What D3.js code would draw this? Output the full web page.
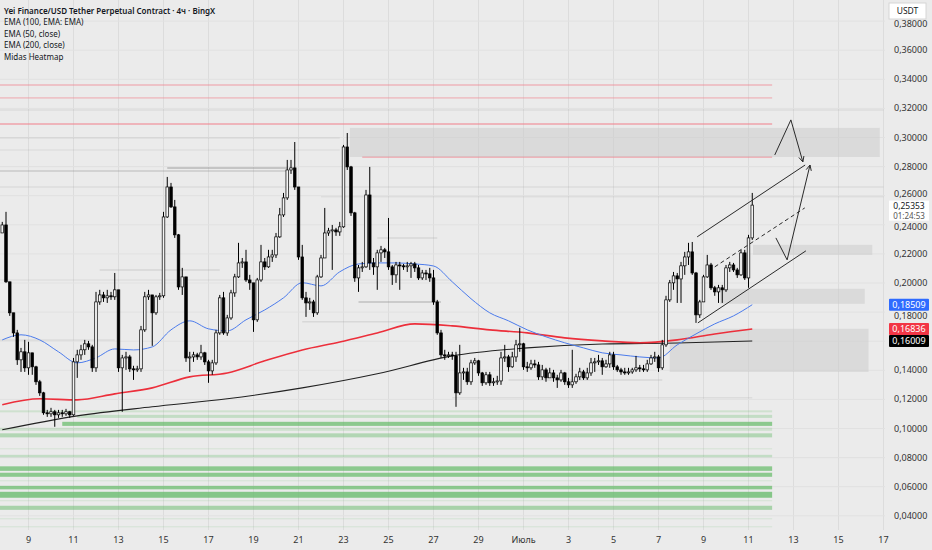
<!DOCTYPE html>
<html>
<head>
<meta charset="utf-8">
<script src="https://cdn.jsdelivr.net/npm/d3@7"></script>
<style>
  body { margin: 0; background: #ebebeb; font-family: "Noto Sans", Roboto, sans-serif; }
  svg { display: block; }
</style>
</head>
<body>
<svg id="chart" width="932" height="550"></svg>
<script>
// 4h bars of CLOUSDT (Yei Finance), first bar 7 June 20:00 UTC
const firstBar = Date.UTC(2025, 5, 7, 20);
const barMs = 4 * 3600 * 1000;
const firstOpen = 0.2344;

const closes = [
  0.2399, 0.2008, 0.1795, 0.1657, 0.1472, 0.1527, 0.1417, 0.1520, 0.1424, 0.1321,
  0.1245, 0.1108, 0.1101, 0.1115, 0.1094, 0.1108, 0.1101, 0.1115, 0.1094, 0.1458,
  0.1506, 0.1541, 0.1582, 0.1561, 0.1417, 0.1870, 0.1918, 0.1898, 0.1912, 0.1905,
  0.1953, 0.1417, 0.1485, 0.1492, 0.1410, 0.1403, 0.1410, 0.1678, 0.1905, 0.1918,
  0.1795, 0.1905, 0.1912, 0.2454, 0.2660, 0.2523, 0.2331, 0.1973, 0.2042, 0.1485,
  0.1492, 0.1506, 0.1492, 0.1520, 0.1458, 0.1396, 0.1451, 0.1657, 0.1898, 0.1657,
  0.1760, 0.1932, 0.2042, 0.2138, 0.2145, 0.2021, 0.2001, 0.1747, 0.2021, 0.2145,
  0.2111, 0.2179, 0.2193, 0.2317, 0.2468, 0.2585, 0.2777, 0.2791, 0.2660, 0.2179,
  0.1898, 0.1863, 0.1870, 0.1795, 0.2042, 0.2172, 0.2344, 0.2358, 0.2365, 0.2351,
  0.2386, 0.2935, 0.2798, 0.2482, 0.2035, 0.2104, 0.2111, 0.2605, 0.2138, 0.2111,
  0.2207, 0.2228, 0.2214, 0.2111, 0.2056, 0.2124, 0.2118, 0.2111, 0.2118, 0.2131,
  0.2104, 0.2035, 0.2069, 0.2063, 0.2035, 0.1870, 0.1657, 0.1506, 0.1499, 0.1506,
  0.1499, 0.1245, 0.1382, 0.1389, 0.1321, 0.1451, 0.1465, 0.1382, 0.1314, 0.1369,
  0.1314, 0.1321, 0.1327, 0.1485, 0.1492, 0.1424, 0.1492, 0.1575, 0.1582, 0.1424,
  0.1417, 0.1444, 0.1437, 0.1355, 0.1403, 0.1348, 0.1382, 0.1348, 0.1334, 0.1382,
  0.1321, 0.1300, 0.1321, 0.1355, 0.1389, 0.1348, 0.1382, 0.1451, 0.1458, 0.1465,
  0.1424, 0.1444, 0.1506, 0.1424, 0.1403, 0.1389, 0.1382, 0.1389, 0.1403, 0.1417,
  0.1410, 0.1403, 0.1444, 0.1485, 0.1492, 0.1417, 0.1575, 0.1884, 0.2001, 0.2049,
  0.2028, 0.2118, 0.2179, 0.2214, 0.2069, 0.1781, 0.1870, 0.2042, 0.2124, 0.1967,
  0.1939, 0.1967, 0.1953, 0.2104, 0.2124, 0.2090, 0.2056, 0.2207, 0.2035, 0.2310,
  0.25353
];
const highs = [
  0.2420, 0.2489, 0.2008, 0.1795, 0.1678, 0.1554, 0.1609, 0.1596, 0.1520, 0.1431,
  0.1334, 0.1252, 0.1128, 0.1142, 0.1128, 0.1128, 0.1128, 0.1135, 0.1121, 0.1485,
  0.1541, 0.1575, 0.1609, 0.1602, 0.1575, 0.1939, 0.1953, 0.1939, 0.1953, 0.1939,
  0.2069, 0.1953, 0.1506, 0.1527, 0.1506, 0.1431, 0.1431, 0.1705, 0.1939, 0.1953,
  0.1918, 0.1918, 0.1932, 0.2489, 0.2729, 0.2688, 0.2571, 0.2337, 0.2104, 0.2042,
  0.1527, 0.1527, 0.1520, 0.1575, 0.1527, 0.1472, 0.1472, 0.1678, 0.1918, 0.1939,
  0.1781, 0.1953, 0.2063, 0.2276, 0.2172, 0.2228, 0.2056, 0.2001, 0.2035, 0.2262,
  0.2172, 0.2228, 0.2228, 0.2344, 0.2516, 0.2619, 0.2846, 0.2846, 0.2969, 0.2660,
  0.2262, 0.1939, 0.1898, 0.1884, 0.2056, 0.2193, 0.2516, 0.2379, 0.2399, 0.2379,
  0.2420, 0.2949, 0.3031, 0.2805, 0.2489, 0.2124, 0.2145, 0.2640, 0.2798, 0.2172,
  0.2228, 0.2255, 0.2241, 0.2447, 0.2124, 0.2145, 0.2145, 0.2131, 0.2145, 0.2145,
  0.2145, 0.2124, 0.2090, 0.2090, 0.2104, 0.2090, 0.1884, 0.1678, 0.1541, 0.1527,
  0.1527, 0.1527, 0.1575, 0.1417, 0.1417, 0.1472, 0.1485, 0.1472, 0.1389, 0.1389,
  0.1389, 0.1348, 0.1362, 0.1527, 0.1575, 0.1506, 0.1527, 0.1609, 0.1692, 0.1589,
  0.1458, 0.1472, 0.1472, 0.1458, 0.1437, 0.1417, 0.1417, 0.1403, 0.1369, 0.1403,
  0.1389, 0.1348, 0.1541, 0.1376, 0.1417, 0.1403, 0.1417, 0.1485, 0.1485, 0.1506,
  0.1485, 0.1472, 0.1527, 0.1527, 0.1437, 0.1417, 0.1417, 0.1417, 0.1417, 0.1499,
  0.1437, 0.1437, 0.1472, 0.1506, 0.1527, 0.1506, 0.1609, 0.1912, 0.2021, 0.2076,
  0.2069, 0.2145, 0.2214, 0.2276, 0.2282, 0.2076, 0.1884, 0.2056, 0.2193, 0.2138,
  0.1980, 0.1987, 0.1987, 0.2124, 0.2145, 0.2138, 0.2104, 0.2228, 0.2228, 0.2331,
  0.2619
];
const lows = [
  0.2344, 0.2001, 0.1774, 0.1630, 0.1437, 0.1389, 0.1389, 0.1369, 0.1369, 0.1300,
  0.1224, 0.1094, 0.1080, 0.1080, 0.1012, 0.1073, 0.1080, 0.1087, 0.1073, 0.1087,
  0.1348, 0.1472, 0.1506, 0.1541, 0.1389, 0.1389, 0.1850, 0.1870, 0.1863, 0.1884,
  0.1884, 0.1389, 0.1115, 0.1403, 0.1389, 0.1334, 0.1389, 0.1389, 0.1664, 0.1884,
  0.1568, 0.1781, 0.1884, 0.1898, 0.2447, 0.2516, 0.2310, 0.1953, 0.1918, 0.1458,
  0.1389, 0.1458, 0.1472, 0.1472, 0.1437, 0.1314, 0.1369, 0.1437, 0.1644, 0.1644,
  0.1637, 0.1747, 0.1905, 0.2035, 0.2104, 0.2008, 0.1953, 0.1664, 0.1733, 0.2008,
  0.2090, 0.2104, 0.2145, 0.2172, 0.2310, 0.2454, 0.2571, 0.2750, 0.2640, 0.2159,
  0.1884, 0.1767, 0.1815, 0.1767, 0.1781, 0.2035, 0.2172, 0.2324, 0.2090, 0.2324,
  0.2324, 0.2379, 0.2777, 0.2461, 0.2008, 0.1939, 0.2076, 0.2104, 0.2090, 0.2056,
  0.1953, 0.2145, 0.2172, 0.2090, 0.1987, 0.2001, 0.1953, 0.2090, 0.2076, 0.2035,
  0.2076, 0.2021, 0.2021, 0.2021, 0.2008, 0.1850, 0.1644, 0.1485, 0.1472, 0.1485,
  0.1472, 0.1149, 0.1231, 0.1334, 0.1300, 0.1300, 0.1437, 0.1362, 0.1293, 0.1300,
  0.1293, 0.1293, 0.1300, 0.1300, 0.1458, 0.1389, 0.1417, 0.1458, 0.1527, 0.1403,
  0.1389, 0.1403, 0.1417, 0.1334, 0.1334, 0.1321, 0.1348, 0.1321, 0.1279, 0.1321,
  0.1300, 0.1279, 0.1279, 0.1307, 0.1334, 0.1334, 0.1334, 0.1362, 0.1389, 0.1437,
  0.1369, 0.1417, 0.1417, 0.1403, 0.1389, 0.1369, 0.1369, 0.1369, 0.1376, 0.1389,
  0.1389, 0.1389, 0.1389, 0.1437, 0.1458, 0.1389, 0.1403, 0.1561, 0.1870, 0.1953,
  0.1863, 0.1863, 0.2056, 0.2124, 0.2056, 0.1726, 0.1760, 0.1870, 0.2035, 0.1953,
  0.1912, 0.1863, 0.1863, 0.1939, 0.2076, 0.2076, 0.2035, 0.2049, 0.2021, 0.1967,
  0.2296
];

const ema50Step = 5;
const ema50 = [
  0.1609, 0.1644, 0.1609, 0.1527, 0.1451, 0.1486, 0.1547, 0.1540, 0.1561, 0.1678,
  0.1740, 0.1685, 0.1671, 0.1747, 0.1815, 0.1898, 0.2002, 0.1980, 0.2077, 0.2131,
  0.2138, 0.2138, 0.2131, 0.2117, 0.2008, 0.1892, 0.1795, 0.1740, 0.1678, 0.1630,
  0.1589, 0.1554, 0.1520, 0.1506, 0.1492, 0.1485, 0.1575, 0.1650, 0.1719, 0.1774,
  0.18509
];
const ema100Step = 10;
const ema100 = [
  0.1163, 0.1204, 0.1197, 0.1238, 0.1279, 0.1355, 0.1382, 0.1465, 0.1540, 0.1595,
  0.1657, 0.1719, 0.1705, 0.1678, 0.1657, 0.1623, 0.1602, 0.1589, 0.1609, 0.1650,
  0.16836
];
const ema200Step = 20;
const ema200 = [0.0991, 0.1087, 0.1149, 0.1204, 0.1279, 0.1376, 0.1499, 0.1554, 0.1581, 0.1588, 0.16009];

// Midas heatmap levels (price band, intensity, first bar)
const greenLo = [0.1111, 0.1073, 0.1018, 0.0984, 0.0939, 0.0857, 0.0802, 0.0709, 0.0668, 0.0637, 0.0582, 0.0524, 0.0500, 0.0441, 0.0376, 0.0321];
const greenHi = [0.1125, 0.1094, 0.1046, 0.1005, 0.0967, 0.0864, 0.0819, 0.0740, 0.0696, 0.0644, 0.0606, 0.0565, 0.0507, 0.0469, 0.0383, 0.0328];
const greenWeight = [0.25, 0.35, 0.85, 0.25, 0.5, 0.2, 0.35, 0.85, 0.85, 0.2, 0.85, 0.9, 0.2, 0.6, 0.2, 0.2];
const greenFrom = [-1, 20, 16, -1, -1, -1, -1, -1, -1, -1, -1, -1, -1, -1, -1, -1];
const heatEnd = 205.3;

const redLevels = [0.3361, 0.3272, 0.3093, 0.2866];
const redWeight = [0.55, 0.4, 0.75, 0.75];
const redFrom = [-1, -1, -1, 96];

const grayLevels = [0.3189, 0.2997, 0.2914, 0.2791, 0.2770, 0.2660, 0.2592, 0.2310, 0.2090, 0.2021, 0.1870, 0.1733, 0.1609, 0.1334, 0.1212];
const grayFrom = [-1, -1, -1, 44, -1, -1, 85, 100, 26, -1, 95, 80, -1, 135, 120];
const grayTo = [235, 90, 90, 76, 76, 235, 235, 116, 58, 120, 117, 122, 30, 176, 200];
const grayWeight = [0.15, 0.15, 0.12, 0.55, 0.35, 0.15, 0.12, 0.2, 0.22, 0.12, 0.45, 0.2, 0.15, 0.2, 0.15];

// zones
const zoneFrom = [92.7, 200.2, 191.4, 178];
const zoneTo = [234, 232, 230, 231];
const zoneTop = [0.3066, 0.2262, 0.1960, 0.1685];
const zoneBottom = [0.2866, 0.2193, 0.1857, 0.1389];

// drawings: [bar index, price]
const channelTop = [[185.3, 0.2317], [214.1, 0.2811]];
const channelBottom = [[185.5, 0.1726], [214.3, 0.2221]];
const channelMid = [[190, 0.2111], [214, 0.2516]];
const pathUp = [[206, 0.2880], [210.3, 0.3121], [213.5, 0.2832]];
const pathDown = [[206.3, 0.2310], [209.3, 0.2159], [215.4, 0.2811]];

// 0,16000 sits fully under the EMA 200 badge, so it is not listed
const priceTicks = [0.04, 0.06, 0.08, 0.10, 0.12, 0.14, 0.18, 0.20, 0.22, 0.24, 0.26, 0.28, 0.30, 0.32, 0.34, 0.36, 0.38];
const dayTicks = ["2025-06-09", "2025-06-11", "2025-06-13", "2025-06-15", "2025-06-17", "2025-06-19",
  "2025-06-21", "2025-06-23", "2025-06-25", "2025-06-27", "2025-06-29", "2025-07-01", "2025-07-03",
  "2025-07-05", "2025-07-07", "2025-07-09", "2025-07-11", "2025-07-13", "2025-07-15", "2025-07-17"];
const legendLines = ["Yei Finance/USD Tether Perpetual Contract · 4ч · BingX",
  "EMA (100, EMA: EMA)", "EMA (50, close)", "EMA (200, close)", "Midas Heatmap"];

// chart
const plotW = 885, plotH = 530;
const barTime = i => new Date(firstBar + i * barMs);
const x = d3.scaleUtc().domain([barTime(-0.6), barTime(235.4)]).range([0, plotW]);
const y = d3.scaleLinear().domain([0.04, 0.36]).range([515.8, 50.2]);
const bx = i => x(barTime(i));
const fmtPrice = v => d3.format(".5f")(v).replace(".", ",");

const candles = closes.map((c, i) => ({
  i, c, o: i === 0 ? firstOpen : closes[i - 1], h: highs[i], l: lows[i]
}));

const svg = d3.select('#chart');
svg.append('rect').attr('width', 932).attr('height', 550).attr('fill', '#ebebeb');

const grid = svg.append('g');
grid.selectAll('.vg').data(dayTicks).enter().append('line')
  .attr('x1', d => x(new Date(d))).attr('x2', d => x(new Date(d)))
  .attr('y1', 0).attr('y2', plotH)
  .attr('stroke', '#dcdcdc').attr('stroke-width', 1);
grid.selectAll('.hg').data(d3.range(0.04, 0.381, 0.02)).enter().append('line')
  .attr('x1', 0).attr('x2', plotW)
  .attr('y1', d => y(d)).attr('y2', d => y(d))
  .attr('stroke', '#e1e1e1').attr('stroke-width', 1);

// heatmap
const heat = svg.append('g');
heat.selectAll('.gr').data(grayLevels).enter().append('line')
  .attr('x1', (d, k) => bx(grayFrom[k])).attr('x2', (d, k) => bx(grayTo[k]))
  .attr('y1', d => y(d)).attr('y2', d => y(d))
  .attr('stroke', '#8f8f8f').attr('stroke-width', 1.5)
  .attr('opacity', (d, k) => grayWeight[k]);
heat.selectAll('.gn').data(greenLo).enter().append('rect')
  .attr('x', (d, k) => bx(greenFrom[k]))
  .attr('width', (d, k) => bx(heatEnd) - bx(greenFrom[k]))
  .attr('y', (d, k) => y(greenHi[k]))
  .attr('height', (d, k) => Math.max(1, y(d) - y(greenHi[k])))
  .attr('fill', '#66bb6a')
  .attr('opacity', (d, k) => greenWeight[k] * 0.85);
heat.selectAll('.rd').data(redLevels).enter().append('line')
  .attr('x1', (d, k) => bx(redFrom[k])).attr('x2', bx(heatEnd))
  .attr('y1', d => y(d)).attr('y2', d => y(d))
  .attr('stroke', '#f08a94').attr('stroke-width', 1.6)
  .attr('opacity', (d, k) => redWeight[k]);

// zones
svg.append('g').selectAll('rect').data(zoneTop).enter().append('rect')
  .attr('x', (d, k) => bx(zoneFrom[k]))
  .attr('width', (d, k) => bx(zoneTo[k]) - bx(zoneFrom[k]))
  .attr('y', d => y(d))
  .attr('height', (d, k) => y(zoneBottom[k]) - y(d))
  .attr('fill', '#c9c9c9').attr('opacity', 0.5);

// moving averages
const emaLine = (vals, step) => d3.line()
  .x((d, k) => bx(k * step)).y(d => y(d))
  .curve(d3.curveMonotoneX)(vals);
svg.append('path').attr('d', emaLine(ema200, ema200Step))
  .attr('fill', 'none').attr('stroke', '#222').attr('stroke-width', 1.1);
svg.append('path').attr('d', emaLine(ema100, ema100Step))
  .attr('fill', 'none').attr('stroke', '#ec2f3b').attr('stroke-width', 1.6);
svg.append('path').attr('d', emaLine(ema50, ema50Step))
  .attr('fill', 'none').attr('stroke', '#4b7bec').attr('stroke-width', 1);

// candles
const bodyW = 2.6;
const cg = svg.append('g');
cg.selectAll('.wick').data(candles).enter().append('line')
  .attr('x1', d => bx(d.i)).attr('x2', d => bx(d.i))
  .attr('y1', d => y(Math.max(d.h, d.o, d.c)))
  .attr('y2', d => y(Math.min(d.l, d.o, d.c)))
  .attr('stroke', '#000').attr('stroke-width', 1);
cg.selectAll('.body').data(candles).enter().append('rect')
  .attr('x', d => bx(d.i) - bodyW / 2)
  .attr('width', bodyW)
  .attr('y', d => y(Math.max(d.o, d.c)))
  .attr('height', d => Math.max(1, Math.abs(y(d.o) - y(d.c))))
  .attr('fill', d => d.c >= d.o ? '#f4f4f4' : '#000')
  .attr('stroke', '#000').attr('stroke-width', 0.7);

// drawings
const dLine = d3.line().x(d => bx(d[0])).y(d => y(d[1]));
const draw = svg.append('g').attr('fill', 'none').attr('stroke', '#2a2a2a').attr('stroke-width', 1);
draw.append('path').attr('d', dLine(channelTop));
draw.append('path').attr('d', dLine(channelBottom));
draw.append('path').attr('d', dLine(channelMid)).attr('stroke-dasharray', '4,3');
[pathUp, pathDown].forEach(p => {
  draw.append('path').attr('d', dLine(p));
  const a = p[p.length - 2], b = p[p.length - 1];
  const ang = Math.atan2(y(b[1]) - y(a[1]), bx(b[0]) - bx(a[0]));
  const ex = bx(b[0]), ey = y(b[1]), len = 6;
  draw.append('path').attr('d', d3.line()([
    [ex - len * Math.cos(ang - 0.45), ey - len * Math.sin(ang - 0.45)],
    [ex, ey],
    [ex - len * Math.cos(ang + 0.45), ey - len * Math.sin(ang + 0.45)]
  ]));
});

// time axis
svg.append('g').selectAll('text').data(dayTicks).enter().append('text')
  .attr('x', d => x(new Date(d))).attr('y', 543)
  .attr('text-anchor', 'middle').attr('font-size', 9).attr('fill', '#333')
  .text(d => new Date(d).getUTCDate() === 1 ? 'Июль' : new Date(d).getUTCDate());

// price axis; labels next to the badges are nudged clear of them
const last = closes[closes.length - 1];
const tickShift = d => {
  if (d > 0.375) return 6;                 // under the currency box
  if (Math.abs(d - 0.26) < 0.001) return 1;  // just above the last-price box
  if (Math.abs(d - 0.24) < 0.001) return 5;  // just below it
  if (Math.abs(d - 0.18) < 0.001) return 7;  // under the EMA 50 badge
  return 3;
};
svg.append('g').selectAll('text').data(priceTicks).enter().append('text')
  .attr('x', 894).attr('y', d => y(d) + tickShift(d))
  .attr('font-size', 9).attr('fill', '#333')
  .text(d => fmtPrice(d));

const badges = [
  { v: ema50[ema50.length - 1], bg: '#2f6bff', fg: '#fff' },
  { v: ema100[ema100.length - 1], bg: '#f23645', fg: '#fff' },
  { v: ema200[ema200.length - 1], bg: '#000', fg: '#fff' }
];
const bg = svg.append('g');
badges.forEach(b => {
  bg.append('rect').attr('x', 889).attr('y', y(b.v) - 6).attr('width', 40).attr('height', 12)
    .attr('fill', b.bg).attr('rx', 1);
  bg.append('text').attr('x', 909).attr('y', y(b.v) + 3).attr('text-anchor', 'middle')
    .attr('font-size', 9).attr('fill', b.fg).text(fmtPrice(b.v));
});
bg.append('rect').attr('x', 889).attr('y', y(last) - 4.5).attr('width', 40).attr('height', 20)
  .attr('fill', '#fff');
bg.append('text').attr('x', 909).attr('y', y(last) + 3.5).attr('text-anchor', 'middle')
  .attr('font-size', 8.5).attr('fill', '#131722').text(fmtPrice(last));
bg.append('text').attr('x', 909).attr('y', y(last) + 13.5).attr('text-anchor', 'middle')
  .attr('font-size', 8).attr('fill', '#555').text('01:24:53');

// currency box
bg.append('rect').attr('x', 889).attr('y', 3).attr('width', 37).attr('height', 16)
  .attr('fill', '#fff').attr('stroke', '#d6d6d6');
bg.append('text').attr('x', 907.5).attr('y', 14).attr('text-anchor', 'middle')
  .attr('font-size', 8.5).attr('fill', '#131722').text('USDT');

// legend
svg.append('g').selectAll('text').data(legendLines).enter().append('text')
  .attr('x', 4).attr('y', (d, k) => 14 + k * 11.4)
  .attr('font-size', 8).attr('fill', '#131722')
  .attr('font-weight', (d, k) => k === 0 ? 600 : 400)
  .text(d => d);
</script>
</body>
</html>
